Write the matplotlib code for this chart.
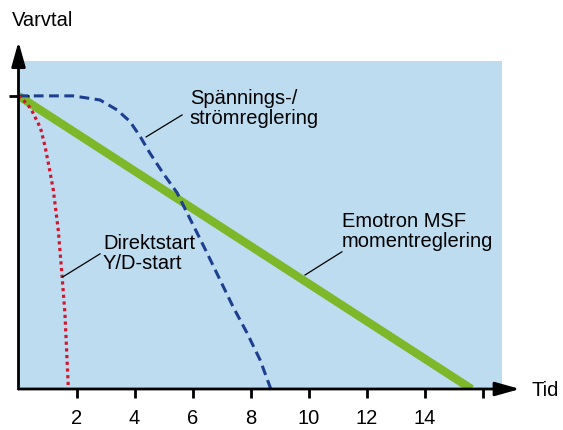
import matplotlib
matplotlib.use("Agg")
import matplotlib.pyplot as plt

plt.rcParams['font.family'] = ['Liberation Sans', 'DejaVu Sans']

# values (time units on x, normalised speed on y)
direct_x = [0.0, 0.22, 0.37, 0.50, 0.76, 0.91, 1.05, 1.20, 1.37, 1.49, 1.60, 1.72]
direct_y = [1.0, 0.98, 0.963, 0.942, 0.890, 0.830, 0.760, 0.679, 0.543, 0.400, 0.259, 0.0]

soft_x = [0.0, 1.88, 2.81, 3.40, 3.84, 4.19, 4.53, 4.98, 5.47, 5.81, 6.16, 6.50, 6.95, 7.40, 7.88, 8.33, 8.70]
soft_y = [1.0, 1.0, 0.986, 0.952, 0.913, 0.862, 0.805, 0.737, 0.669, 0.601, 0.532, 0.464, 0.372, 0.280, 0.191, 0.099, 0.0]

msf_x = [0.0, 15.62]
msf_y = [1.0, 0.0]

x_ticks = [2, 4, 6, 8, 10, 12, 14, 16]
x_labels = ['2', '4', '6', '8', '10', '12', '14', '']

BG = '#bedcf0'
RED = '#d3152e'
BLUE = '#1d3f8f'
GREEN = '#7cb82a'
FS = 14.5

fig = plt.figure(figsize=(5.63, 4.30), dpi=100)
ax = fig.add_axes([18.5 / 563, 41 / 430, (502 - 18.5) / 563, (389 - 61) / 430])
ax.set_facecolor(BG)
ax.set_xlim(0, 16.67)
ax.set_ylim(0, 1.119)

ax.plot(msf_x, msf_y, color=GREEN, lw=6, solid_capstyle='butt', zorder=3)
ax.plot(soft_x, soft_y, color=BLUE, lw=2.2, linestyle=(0, (3.2, 1.8)), zorder=4)
ax.plot(direct_x, direct_y, color=RED, lw=2.3, linestyle=(0, (1, 1.1)), zorder=4)

for s in ax.spines.values():
    s.set_visible(False)

# axes with arrow heads
arrow = dict(arrowstyle='-|>,head_length=1.5,head_width=0.42', color='black', lw=2,
             mutation_scale=10, shrinkA=0, shrinkB=0)
ax.annotate('', xy=(17.29, 0), xytext=(0, 0), arrowprops=arrow, annotation_clip=False, zorder=6)
ax.annotate('', xy=(0, 1.185), xytext=(0, 0), arrowprops=arrow, annotation_clip=False, zorder=6)

ax.set_xticks(x_ticks)
ax.set_xticklabels(x_labels, fontsize=FS)
ax.tick_params(axis='x', direction='out', length=6.5, width=2, pad=8, color='black')
ax.set_yticks([1.0])
ax.set_yticklabels([''])
ax.tick_params(axis='y', direction='inout', length=14, width=2, color='black')

fig.text(12 / 563, 1 - 20 / 430, 'Varvtal', fontsize=FS, ha='left', va='center')
fig.text(531 / 563, 1 - 390 / 430, 'Tid', fontsize=FS, ha='left', va='center')

ax.text(5.91, 0.957, 'Spännings-/\nströmreglering', fontsize=FS, ha='left', va='center',
        linespacing=1.1)
ax.text(2.91, 0.462, 'Direktstart\nY/D-start', fontsize=FS, ha='left', va='center',
        linespacing=1.1)
ax.text(11.16, 0.537, 'Emotron MSF\nmomentreglering', fontsize=FS, ha='left', va='center',
        linespacing=1.1)

# leader lines
ax.plot([5.64, 4.40], [0.935, 0.860], color='black', lw=0.9, zorder=5)
ax.plot([2.81, 1.52], [0.461, 0.382], color='black', lw=0.9, zorder=5)
ax.plot([11.15, 9.88], [0.468, 0.389], color='black', lw=0.9, zorder=5)

fig.savefig('out.png', dpi=100)
